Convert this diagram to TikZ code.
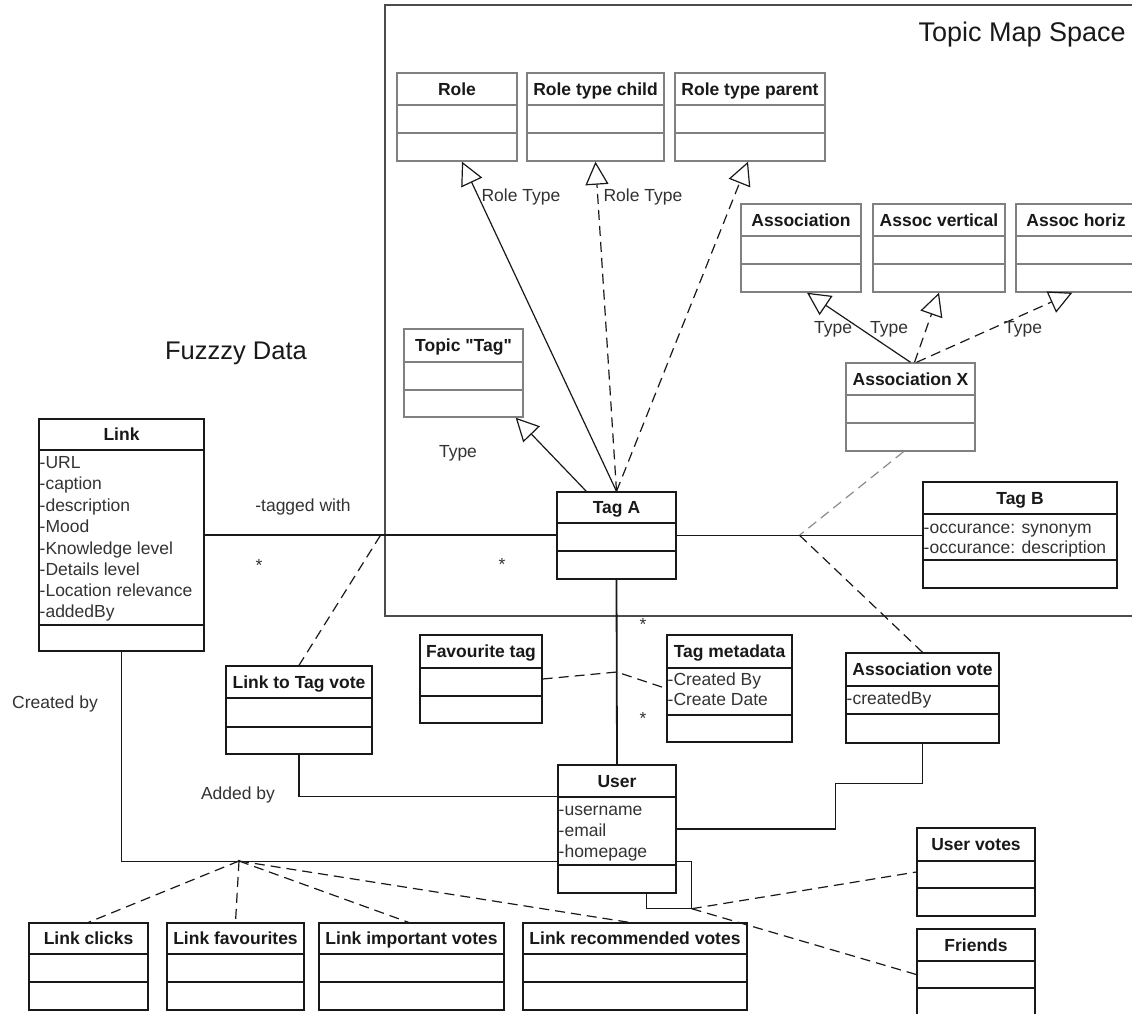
\documentclass[tikz,border=0pt]{standalone}
\usepackage{fontspec}
\setmainfont{Liberation Sans}[Ligatures=TeXOff]
\usetikzlibrary{arrows.meta,calc,fit}
\newcommand{\fs}{\fontsize{17.5}{21}\selectfont}
\tikzset{
 box/.style={draw=black!90, line width=1.4pt, inner sep=0pt, fill=white},
 box-line/.style={draw=black!90, line width=1.4pt},
 gbox/.style={draw=black!50, line width=1.4pt, inner sep=0pt, fill=white},
 gbox-line/.style={draw=black!50, line width=1.4pt},
 ttl/.style={font=\fs\bfseries, text=black!90, inner sep=0pt, text height=12.5pt, text depth=0pt},
 attrtxt/.style={anchor=west, inner sep=0pt, text=black!80, text height=12.5pt, text depth=0pt, xshift=0.5pt},
 lbl/.style={inner sep=0pt, text=black!80, text height=12.5pt, text depth=0pt},
 conn/.style={draw=black!90, line width=1.2pt},
 dconn/.style={conn, dash pattern=on 10pt off 6pt},
 gen/.style={-{Triangle[open,length=23pt,width=23pt]}},
 frame/.style={draw=black!70, line width=2pt},
}
% #1 style, #2 name, #3 x1, #4 y1, #5 x2, #6 y2, #7 d1, #8 d2, #9 title
\newcommand{\umlbox}[9]{%
  \node[#1, fit={(#3,#4) (#5,#6)}] (#2) {};
  \draw[#1-line] (#3,#7) -- (#5,#7) (#3,#8) -- (#5,#8);
  \node[ttl] (#2-t) at ($(#3,#4)!0.5!(#5,#7)$) {#9};
}
\newcommand{\umlattr}[4]{\node[attrtxt] (#1) at (#2,#3) {#4};}
\begin{document}
\begin{tikzpicture}[x=1pt,y=-1pt,font=\fs]
\useasboundingbox (0,0) rectangle (1132,1013);
\clip (0,0) rectangle (1132,1013);
\fill[white] (0,0) rectangle (1132,1013);
\draw[frame] (1140,5) -- (385,5) -- (385,616) -- (1140,616);
\node[lbl, font=\fontsize{27}{32}\selectfont, anchor=east, text height=19pt, text=black!90] (tms) at (1126,32) {Topic Map Space};
\node[lbl, font=\fontsize{25.5}{30}\selectfont, text height=18pt, text=black!90] (fd) at (236,350) {Fuzzzy Data};

% gray boxes inside topic map space
\umlbox{gbox}{role}{397}{73}{517}{161}{105}{133}{Role}
\umlbox{gbox}{rtchild}{527}{73}{664}{161}{105}{133}{Role type child}
\umlbox{gbox}{rtparent}{675}{73}{825}{161}{105}{133}{Role type parent}
\umlbox{gbox}{assoc}{741}{204}{861}{292}{236}{264}{Association}
\umlbox{gbox}{assocv}{873}{204}{1005}{292}{236}{264}{Assoc vertical}
\umlbox{gbox}{assoch}{1016}{204}{1136}{292}{236}{264}{Assoc horiz}
\umlbox{gbox}{assocx}{846}{363}{975}{451}{395}{423}{Association X}
\umlbox{gbox}{topic}{404}{329}{523}{417}{362}{390}{Topic "Tag"}

% black boxes
\umlbox{box}{taga}{557}{492}{676}{579}{523}{551}{Tag A}
\umlbox{box}{tagb}{923}{482}{1117}{588}{514}{560}{Tag B}
\umlattr{tagb-a1}{923}{527}{-occurance: synonym}
\umlattr{tagb-a2}{923}{547}{-occurance: description}

\umlbox{box}{link}{39}{419}{204}{651}{450}{625}{Link}
\umlattr{link-a1}{39}{462}{-URL}
\umlattr{link-a2}{39}{483}{-caption}
\umlattr{link-a3}{39}{505}{-description}
\umlattr{link-a4}{39}{526}{-Mood}
\umlattr{link-a5}{39}{548}{-Knowledge level}
\umlattr{link-a6}{39}{569}{-Details level}
\umlattr{link-a7}{39}{590}{-Location relevance}
\umlattr{link-a8}{39}{611}{-addedBy}

\umlbox{box}{ltv}{226}{666}{372}{754}{698}{727}{Link to Tag vote}
\umlbox{box}{fav}{420}{635}{542}{723}{668}{696}{Favourite tag}
\umlbox{box}{meta}{667}{635}{792}{742}{668}{715}{Tag metadata}
\umlattr{meta-a1}{667}{679}{-Created By}
\umlattr{meta-a2}{667}{699}{-Create Date}
\umlbox{box}{avote}{846}{653}{999}{743}{686}{714}{Association vote}
\umlattr{avote-a1}{846}{698}{-createdBy}

\umlbox{box}{user}{558}{765}{676}{893}{797}{865}{User}
\umlattr{user-a1}{558}{809}{-username}
\umlattr{user-a2}{558}{830}{-email}
\umlattr{user-a3}{558}{851}{-homepage}

\umlbox{box}{uvotes}{917}{828}{1035}{916}{861}{888}{User votes}
\umlbox{box}{friends}{917}{929}{1035}{1020}{961}{988}{Friends}

\umlbox{box}{lclicks}{29}{923}{148}{1010}{954}{982}{Link clicks}
\umlbox{box}{lfav}{167}{923}{304}{1010}{954}{982}{Link favourites}
\umlbox{box}{limp}{319}{923}{504}{1010}{954}{982}{Link important votes}
\umlbox{box}{lrec}{523}{923}{747}{1010}{954}{982}{Link recommended votes}

% generalisations
\draw[conn,gen] (taga.north) -- ($(role.south)+(5,0)$);
\draw[dconn,gen] (taga.north) -- (rtchild.south);
\draw[dconn,gen] (taga.north) -- ($(rtparent.south)+(-2,0)$);
\draw[conn,gen] ($(taga.north west)+(30,0)$) -- ($(topic.south east)+(-8,0)$);
\draw[conn,gen] (assocx.north) -- ($(assoc.south)+(6,0)$);
\draw[dconn,gen] ($(assocx.north)+(4,0)$) -- (assocv.south);
\draw[dconn,gen] ($(assocx.north)+(6,0)$) -- ($(assoch.south west)+(57,0)$);

% tagged with
\draw[conn] (link.east) -- (link.east -| taga.west);
\draw[conn] (taga.east) -- (taga.east -| tagb.west);
\coordinate (j1) at ($(link.east)!0.5!(taga.west)$);
\coordinate (j2) at ($(taga.east)!0.5!(tagb.west)$);
\draw[dconn] (j1) -- (ltv.north);
\draw[dconn, draw=black!45] ($(assocx.south)+(-7,0)$) -- (j2);
\draw[dconn] (j2) -- (avote.north);

% Tag A - User
\draw[conn, line width=1.8pt] (taga.south) -- (user.north);
\coordinate (j3) at ($(taga.south)!0.5!(user.north)$);
\draw[dconn] (fav.east) -- (j3) -- (meta.west);

% Added by / Created by
\draw[conn] (ltv.south) |- ($(user.north west)+(0,32)$);
\draw[conn] (link.south) |- ($(user.south west)+(0,-32)$);
\coordinate (j4) at (239,861);
\fill[black!90] (j4) circle (1.5);
\draw[dconn] (j4) -- (lclicks.north);
\draw[dconn] (j4) -- (lfav.north);
\draw[dconn] (j4) -- ($(limp.north)+(-3,0)$);
\draw[dconn] (j4) -- ($(lrec.north)+(-6,0)$);

% Association vote - User
\draw[conn] (avote.south) -- ++(0,40) -| ($(user.east)+(159,0)$) -- (user.east);

% self association
\draw[conn] ($(user.south east)+(0,-32)$) -- ++(15,0) -- ++(0,47) coordinate (j5) -| ($(user.south east)+(-30,0)$);
\draw[dconn] (j5) -- (uvotes.west);
\draw[dconn] (j5) -- (friends.west);

% labels
\node[lbl] (l-rt1) at (521,195) {Role Type};
\node[lbl] (l-rt2) at (643,195) {Role Type};
\node[lbl] (l-ty0) at (458,451) {Type};
\node[lbl] (l-ty1) at (833,327) {Type};
\node[lbl] (l-ty2) at (889,327) {Type};
\node[lbl] (l-ty3) at (1023,327) {Type};
\node[lbl] (l-tw) at (303,505) {-tagged with};
\node[lbl] (l-cb) at (55,702) {Created by};
\node[lbl] (l-ab) at (238,793) {Added by};
\node[lbl] (s1) at (259,565) {*};
\node[lbl] (s2) at (502,564) {*};
\node[lbl] (s3) at (643,624) {*};
\node[lbl] (s4) at (643,718) {*};
\end{tikzpicture}
\end{document}
